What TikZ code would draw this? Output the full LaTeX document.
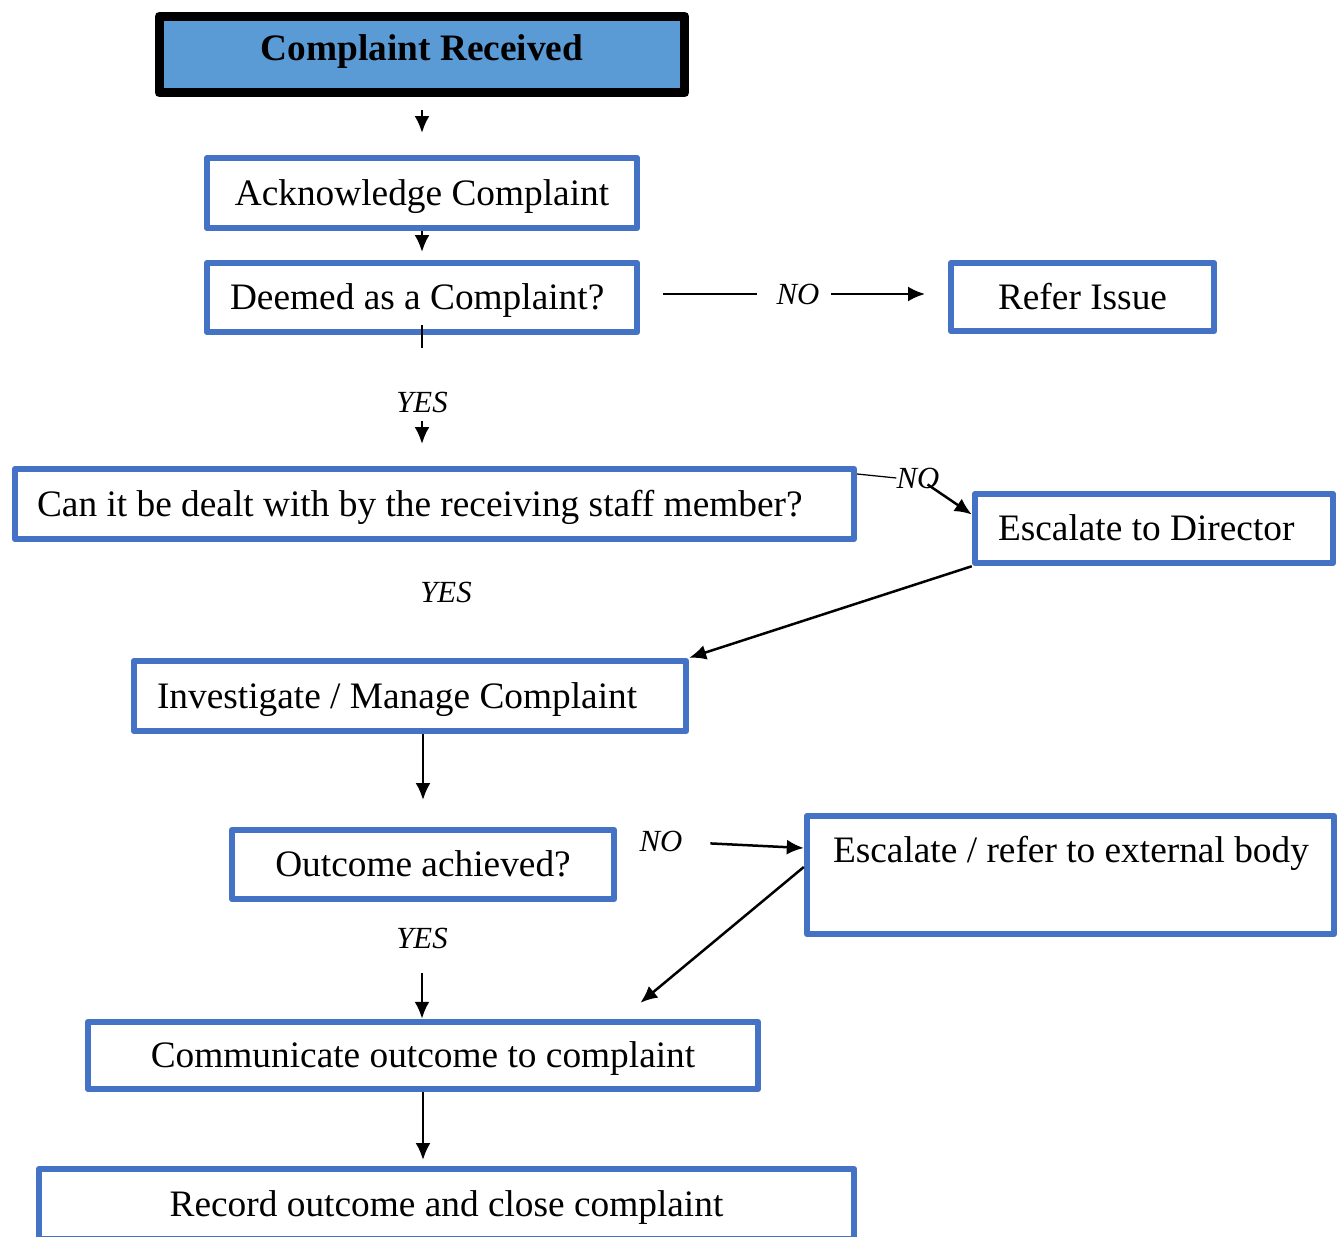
\documentclass[tikz,border=0pt]{standalone}
\usepackage{fontspec}
\setmainfont{Liberation Serif}
\usepackage{tikz}
\usepackage{xcolor}
\usetikzlibrary{arrows.meta}
\usetikzlibrary{calc}
\definecolor{boxblue}{HTML}{4472C4}
\definecolor{headblue}{HTML}{5B9BD5}
\newcommand{\lefttext}[2]{\makebox[#1][l]{#2}}
\tikzset{stepbox/.style={draw=boxblue, line width=0.13cm, line join=round, fill=white, inner sep=0pt,
   text height=0.62cm, text depth=0.13cm, font=\fontsize{21.25pt}{25pt}\selectfont},
 leftbox/.style={stepbox, inner xsep=0.46cm},
 headbox/.style={draw=black, line width=0.18cm, line join=round, fill=headblue, inner sep=0pt,
   text height=0.4cm, text depth=0.17cm, font=\fontsize{21.25pt}{25pt}\selectfont\bfseries},
 answer/.style={inner sep=0pt, font=\fontsize{17.5pt}{21pt}\selectfont\itshape},
 arr/.style={-{Latex[length=0.34cm,width=0.3cm]}, line width=0.05cm},
 thinline/.style={line width=0.025cm},
 }

\begin{document}
\begin{tikzpicture}[x=0.02cm, y=-0.02cm]
        \useasboundingbox (0,0) rectangle (1340,1237);
        \node[headbox, minimum width=10.52cm, minimum height=1.54cm] (recv) at (422,54.5) {Complaint Received};
        \node[stepbox, minimum width=8.6cm, minimum height=1.4cm] (ack) at (422,193) {Acknowledge Complaint};
        \node[leftbox, minimum height=1.38cm] (deemed) at (422,297.5) {\lefttext{7.68cm}{Deemed as a Complaint?}};
        \node[stepbox, minimum width=5.26cm, minimum height=1.36cm] (refer) at (1082.5,297) {Refer Issue};
        \node[leftbox, inner xsep=0.44cm, minimum height=1.4cm] (canit) at (434.5,504) {\lefttext{15.9cm}{Can it be dealt with by the receiving staff member?}};
        \node[leftbox, minimum height=1.38cm] (escdir) at (1154,528.5) {\lefttext{6.24cm}{Escalate to Director}};
        \node[leftbox, minimum height=1.4cm] (invest) at (410,696) {\lefttext{10.12cm}{Investigate / Manage Complaint}};
        \node[stepbox, minimum width=7.64cm, minimum height=1.38cm] (outcome) at (423,864.5) {Outcome achieved?};
        \node[leftbox, inner xsep=0.52cm, inner ysep=0pt, text height=0.92cm, text depth=1.44cm] (extbody) at (1070.5,875) {\lefttext{9.5cm}{Escalate / refer to external body}};
        \node[stepbox, minimum width=13.4cm, minimum height=1.34cm] (comm) at (423,1055.5) {Communicate outcome to complaint};
        \node[stepbox, minimum width=16.3cm, minimum height=1.4cm] (record) at (446.5,1204) {Record outcome and close complaint};

        \node[answer] (no1) at (798,294) {NO};
        \node[answer] (no2) at (918,478) {NO};
        \node[answer] (no3) at (661,841) {NO};
        \node[answer] (yes1) at (422,402) {YES};
        \node[answer] (yes2) at (446,592) {YES};
        \node[answer] (yes3) at (422,938) {YES};
        \coordinate (tick) at (422,348);

        \draw[arr, shorten <=0.25cm, shorten >=0.435cm] (recv) -- (ack);
        \draw[arr, shorten >=0.155cm] (ack) -- (deemed);
        \draw[thinline] ([yshift=0.2cm]deemed.south) -- (tick);
        \draw[arr, shorten <=0.16cm, shorten >=0.435cm] (yes1) -- (canit.north -| yes1);
        \draw[thinline, shorten <=0.455cm, shorten >=0.39cm] (deemed.east |- no1) -- (no1);
        \draw[arr, shorten <=0.23cm, shorten >=0.455cm] (no1) -- (refer.west |- no1);
        \draw[thinline] ([yshift=0.6cm]canit.east) -- (no2.west);
        \draw[arr, shorten <=-0.15cm] (no2) -- ([yshift=0.28cm]escdir.west);
        \draw[arr] (escdir.south west) -- (invest.north east);
        \draw[arr, shorten >=0.535cm] (invest.south -| outcome) -- (outcome);
        \draw[arr, shorten <=0.555cm] (no3) -- ([yshift=0.54cm]extbody.west);
        \draw[arr, shorten >=0.5cm] ([yshift=0.16cm]extbody.west) -- ($(comm.north west)!0.793!(comm.north east)$);
        \draw[arr, shorten <=0.48cm] (yes3) -- (comm.north -| yes3);
        \draw[arr, shorten >=0.115cm] (comm.south) -- (record.north -| comm.south);
    \end{tikzpicture}
\end{document}
